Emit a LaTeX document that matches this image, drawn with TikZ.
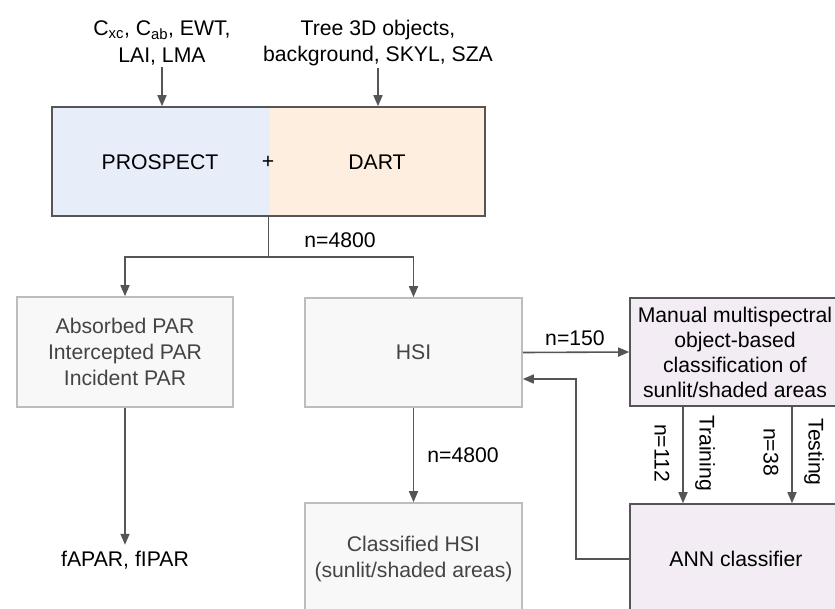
\documentclass[tikz,border=0pt]{standalone}
\usepackage{fontspec}
\setmainfont{Liberation Sans}
\usetikzlibrary{arrows.meta}
\definecolor{lc}{HTML}{555555}
\definecolor{gb}{HTML}{BDBDBD}
\definecolor{gf}{HTML}{F8F8F8}
\definecolor{gt}{HTML}{444444}
\definecolor{bf}{HTML}{E8EEF9}
\definecolor{pf}{HTML}{FDEEDF}
\definecolor{mf}{HTML}{F4ECF5}
\tikzset{
  arr/.style={draw=lc, line width=1.6pt, -{Triangle[length=11pt,width=9pt]}},
  ln/.style={draw=lc, line width=1.6pt},
  txt/.style={align=center, font=\fontsize{21.2}{26.5}\selectfont, text=black, inner sep=2pt},
  graybox/.style={draw=gb, line width=1.6pt, fill=gf, align=center, font=\fontsize{21.2}{26}\selectfont, text=gt, inner sep=0pt},
  purplebox/.style={draw=lc, line width=1.6pt, fill=mf, align=center, font=\fontsize{21.2}{25}\selectfont, text=black, inner sep=0pt},
  lbl/.style={font=\fontsize{21.2}{26}\selectfont, text=black, inner sep=1pt}
}
\begin{document}
\begin{tikzpicture}[x=1pt,y=-1pt]
\useasboundingbox (0,0) rectangle (835,608);
\clip (0,0) rectangle (835,608);
\fill[white] (0,0) rectangle (835,608);
% top box halves
\node[fill=bf, minimum width=218pt, minimum height=109pt, inner sep=0pt] (pleft) at (161,161.5) {};
\node[fill=pf, minimum width=215pt, minimum height=109pt, inner sep=0pt] (pright) at (377.5,161.5) {};
\node[draw=lc, line width=1.6pt, minimum width=433pt, minimum height=109pt, inner sep=0pt] (top) at (268.5,161.5) {};
\node[txt] (prospect) at (160,162) {PROSPECT};
\node[txt] (dart) at (377,162) {DART};
\node[txt] (plus) at (268,162) {+};
% inputs
\node[txt] (in1) at (162,43) {C\textsubscript{xc}, C\textsubscript{ab}, EWT,\\LAI, LMA};
\node[txt] (in2) at (378,43) {Tree 3D objects,\\background, SKYL, SZA};
\draw[arr] (in1.south) -- (in1.south |- top.north);
\draw[arr] (in2.south) -- (in2.south |- top.north);
% second row
\node[graybox, minimum width=216pt, minimum height=110pt] (par) at (125,352) {Absorbed PAR\\Intercepted PAR\\Incident PAR};
\node[graybox, minimum width=217pt, minimum height=109pt] (hsi) at (413.5,352.5) {HSI};
\node[purplebox, minimum width=210pt, minimum height=108pt] (manual) at (735,352) {Manual multispectral\\object-based\\classification of\\sunlit/shaded areas};
% branch
\coordinate (br) at (268.5,257);
\draw[ln] (top.south) -- (br);
\draw[arr] (br) -| (par.north);
\draw[arr] (br) -| (hsi.north);
\node[lbl] (n4800a) at (340,240) {n=4800};
% bottom row
\node[txt] (fapar) at (125,560) {fAPAR, fIPAR};
\node[graybox, minimum width=217pt, minimum height=112pt] (cls) at (413.5,559) {Classified HSI\\(sunlit/shaded areas)};
\node[purplebox, minimum width=212pt, minimum height=110pt] (ann) at (736,559) {ANN classifier};
\draw[arr] (par.south) -- ([yshift=4pt]fapar.north);
\draw[arr] (hsi.south) -- (cls.north);
\node[lbl] (n4800b) at (463,455) {n=4800};
% HSI <-> manual
\draw[arr] (hsi.east) -- (manual.west);
\node[lbl] (n150) at (575,338) {n=150};
\coordinate (rt) at (576,559);
\draw[arr] (ann.west) -- (rt) |- ([yshift=-26.5pt]hsi.east);
% training/testing
\draw[arr] ([xshift=-52pt]manual.south) -- ([xshift=-52pt]manual.south |- ann.north);
\draw[arr] ([xshift=57pt]manual.south) -- ([xshift=57pt]manual.south |- ann.north);
\node[lbl, rotate=-90] (n112) at (662,453) {n=112};
\node[lbl, rotate=-90] (train) at (705,453) {Training};
\node[lbl, rotate=-90] (n38) at (771,452) {n=38};
\node[lbl, rotate=-90] (test) at (814,452) {Testing};
\end{tikzpicture}
\end{document}
